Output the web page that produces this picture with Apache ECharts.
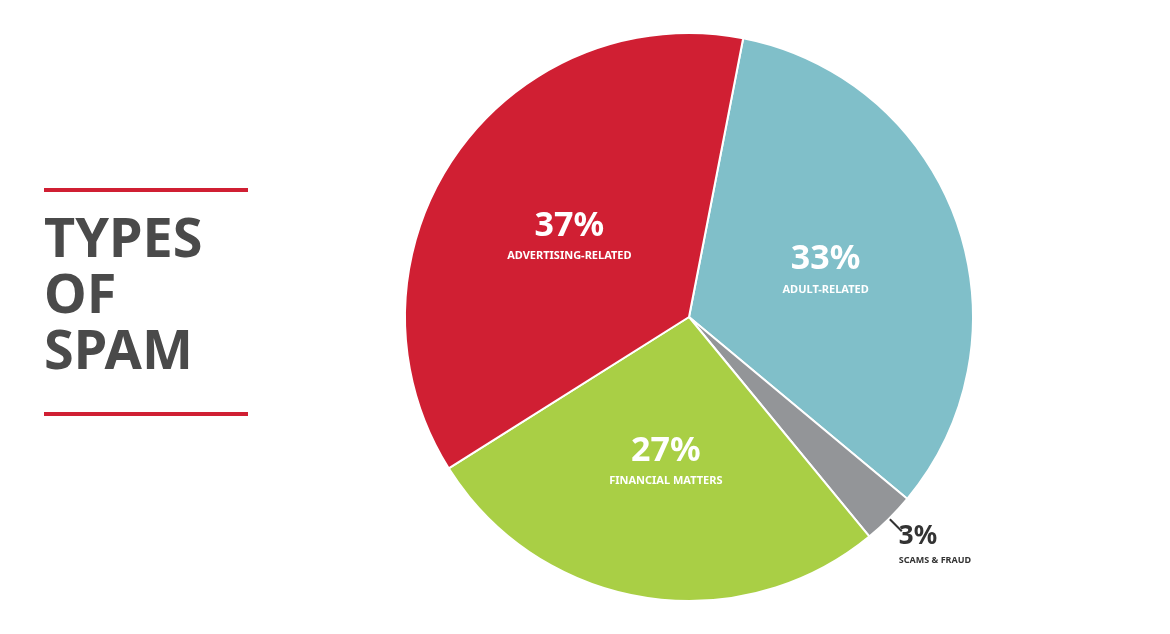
<!DOCTYPE html>
<html><head><meta charset="utf-8">
<script src="https://cdn.jsdelivr.net/npm/echarts@6/dist/echarts.min.js"></script>
<style>html,body{margin:0;background:#fff}#c{width:1170px;height:634px}</style>
</head><body><div id="c"></div>
<script>
const categories = ['ADULT-RELATED','SCAMS & FRAUD','FINANCIAL MATTERS','ADVERTISING-RELATED'];
const values = [33, 3, 27, 37];
const colors = ['#80bfc9','#939598','#a9cf45','#d01f33'];
const chart = echarts.init(document.getElementById('c'));
const rich = {
  p:{fontFamily:'Noto Sans',fontWeight:'bold',fontSize:34,color:'#fff',lineHeight:42},
  n:{fontFamily:'Noto Sans',fontWeight:'bold',fontSize:11,color:'#fff',lineHeight:18}
};
chart.setOption({
  animation:false,
  graphic:[
    {type:'rect',shape:{x:44,y:188,width:204,height:4},style:{fill:'#d01f33'}},
    {type:'rect',shape:{x:44,y:412,width:204,height:4},style:{fill:'#d01f33'}},
    {type:'text',left:44,top:214,style:{text:'TYPES\nOF\nSPAM',fill:'#4a4a4a',font:'bold 54px "Noto Sans"',lineHeight:56}}
  ],
  series:[{
    type:'pie',center:[689,317],radius:[0,284],startAngle:79,clockwise:true,
    data:categories.map((c,i)=>({name:c,value:values[i],itemStyle:{color:colors[i]},
      label: i===1 ? {position:'outside',formatter:'{p|{c}%}\n{n|{b}}',
        rich:{p:{fontFamily:'Noto Sans',fontWeight:'bold',fontSize:26,color:'#333',lineHeight:30},
              n:{fontFamily:'Noto Sans',fontWeight:'bold',fontSize:9,color:'#333'}},
        align:'left',padding:[28,0,0,-8]} : undefined,
      labelLine: i===1 ? {show:true,length:18,length2:0,lineStyle:{color:'#333',width:2}} : {show:false}
    })),
    itemStyle:{borderColor:'#fff',borderWidth:2},
    label:{position:'inner',formatter:'{p|{c}%}\n{n|{b}}',rich:rich},
  }]
});
</script></body></html>
